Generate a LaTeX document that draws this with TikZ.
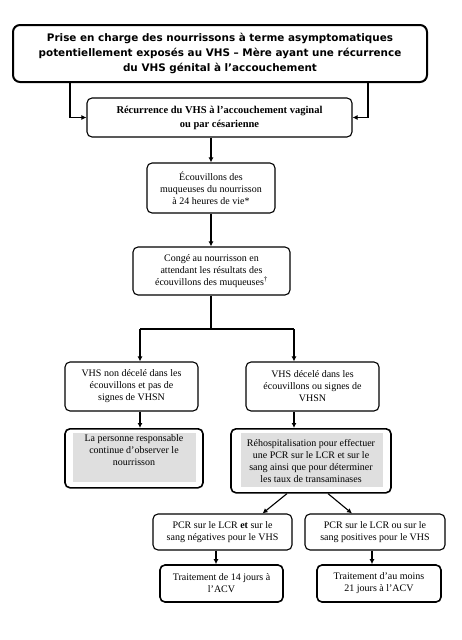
\documentclass[tikz,border=0pt]{standalone}
\usepackage{fontspec}
\setmainfont{Liberation Serif}
\newfontfamily\titlefont{DejaVu Sans}
\usetikzlibrary{arrows.meta,backgrounds}
\tikzset{
  box/.style={draw, rounded corners=5pt, line width=1.1pt, align=center,
    inner sep=1pt, font=\fontsize{10}{12}\selectfont},
  thickbox/.style={box, line width=1.6pt},
  arr/.style={-{Latex[length=5pt,width=5pt]}, line width=1.1pt},
  shade/.style={fill=gray!25}
}
\begin{document}
\begin{tikzpicture}[x=1pt,y=-1pt]
  \useasboundingbox (0,0) rectangle (461,640);
  \node[box, line width=2pt, rounded corners=7pt, minimum width=414, minimum height=57,
    font=\titlefont\bfseries\fontsize{10.4}{15}\selectfont] (top) at (220,53.5)
    {Prise en charge des nourrissons à terme asymptomatiques\\
     potentiellement exposés au VHS – Mère ayant une récurrence\\
     du VHS génital à l’accouchement};
  \node[box, minimum width=265, minimum height=39, font=\bfseries\fontsize{10.5}{14}\selectfont]
    (rec) at (219.5,117.5)
    {Récurrence du VHS à l’accouchement vaginal\\ ou par césarienne};
  \node[box, minimum width=128, minimum height=50] (ecou) at (211,188)
    {Écouvillons des\\ muqueuses du nourrisson\\ à 24 heures de vie*};
  \node[box, minimum width=157, minimum height=48] (conge) at (211.5,271)
    {Congé au nourrisson en\\ attendant les résultats des\\ écouvillons des muqueuses\textsuperscript{†}};
  \node[box, minimum width=133, minimum height=49] (nond) at (131.5,386.5)
    {VHS non décelé dans les\\ écouvillons et pas de\\ signes de VHSN};
  \node[box, minimum width=133, minimum height=49] (dec) at (312.5,386.5)
    {VHS décelé dans les\\ écouvillons ou signes de\\ VHSN};
  \node[thickbox, minimum width=138, minimum height=59, anchor=north] (obs) at (134,428)
    {La personne responsable\\ continue d’observer le\\ nourrisson\\ \strut};
  \node[thickbox, minimum width=160, minimum height=64, anchor=north] (rehosp) at (311,428)
    {Réhospitalisation pour effectuer\\ une PCR sur le LCR et sur le\\
     sang ainsi que pour déterminer\\ les taux de transaminases};
  \node[box, minimum width=139, minimum height=36] (pneg) at (222.5,532)
    {PCR sur le LCR \textbf{et} sur le\\ sang négatives pour le VHS};
  \node[box, minimum width=140, minimum height=36] (ppos) at (375,532)
    {PCR sur le LCR ou sur le\\ sang positives pour le VHS};
  \node[thickbox, minimum width=123, minimum height=37] (tq) at (221.5,583.5)
    {Traitement de 14 jours à\\ l’ACV};
  \node[thickbox, minimum width=124, minimum height=37] (tv) at (379,583.5)
    {Traitement d’au moins\\ 21 jours à l’ACV};
  % grey fill behind the two action boxes
  \begin{scope}[on background layer]
    \fill[shade] ([shift={(9pt,-5pt)}]obs.north west) rectangle ([shift={(-8pt,7pt)}]obs.south east);
    \fill[shade] ([shift={(11pt,-5pt)}]rehosp.north west) rectangle ([shift={(-9pt,7pt)}]rehosp.south east);
  \end{scope}
  \coordinate (tl) at (70,82);
  \coordinate (tr) at (368,82);
  \coordinate (jl) at (140,329);
  \coordinate (jr) at (294,329);
  \coordinate (sp) at (211,329);
  \draw[arr] (top.south -| tl) |- (rec.west);
  \draw[arr] (top.south -| tr) |- (rec.east);
  \draw[arr] (rec.south -| ecou.north) -- (ecou.north);
  \draw[arr] (ecou.south) -- (ecou.south |- conge.north);
  \draw[line width=1.1pt] (conge.south -| sp) -- (sp);
  \draw[line width=1.1pt] (jl) -- (jr);
  \draw[arr] (jl) -- (jl |- nond.north);
  \draw[arr] (jr) -- (jr |- dec.north);
  \draw[arr] (jl |- nond.south) -- (jl |- obs.north);
  \draw[arr] (jr |- dec.south) -- (jr |- rehosp.north);
  \draw[arr] ([xshift=-24pt]rehosp.south) -- ([xshift=40pt]pneg.north);
  \draw[arr] ([xshift=17pt]rehosp.south) -- ([xshift=-23pt]ppos.north);
  \draw[arr] ([xshift=-6.5pt]pneg.south) -- ([xshift=-5.5pt]tq.north);
  \draw[arr] ([xshift=-3pt]ppos.south) -- ([xshift=-7pt]tv.north);
\end{tikzpicture}
\end{document}
